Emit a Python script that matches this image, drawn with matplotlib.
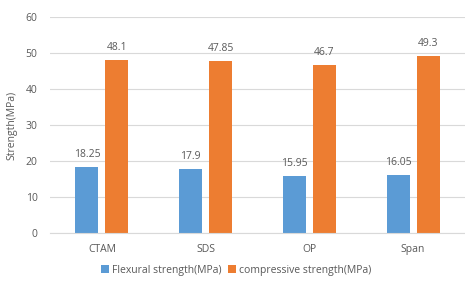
import numpy as np
import matplotlib.pyplot as plt

categories = ["CTAM", "SDS", "OP", "Span"]
flexural = [18.25, 17.9, 15.95, 16.05]
compressive = [48.1, 47.85, 46.7, 49.3]
flex_labels = ["18.25", "17.9", "15.95", "16.05"]
comp_labels = ["48.1", "47.85", "46.7", "49.3"]

BLUE = "#5B9BD5"
ORANGE = "#ED7D31"
TEXT = "#595959"
GRID = "#D9D9D9"
FS = 7.5

plt.rcParams['font.family'] = ['Open Sans', 'DejaVu Sans']

fig = plt.figure(figsize=(4.65, 2.84), dpi=100)
ax = fig.add_axes([50 / 465, 51 / 284, 415 / 465, 216 / 284])

x = np.arange(len(categories))
w = 0.222
off = 0.145
b1 = ax.bar(x - off, flexural, w, color=BLUE, label="Flexural strength(MPa)", zorder=2)
b2 = ax.bar(x + off, compressive, w, color=ORANGE, label="compressive strength(MPa)", zorder=2)

# value labels above bars
for bars, labels in ((b1, flex_labels), (b2, comp_labels)):
    for rect, lab in zip(bars, labels):
        ax.annotate(lab, (rect.get_x() + rect.get_width() / 2, rect.get_height()),
                    xytext=(0, 5), textcoords="offset points", ha="center", va="bottom",
                    fontsize=FS, color=TEXT)

ax.set_xlim(-0.5, len(categories) - 0.5)
ax.set_ylim(0, 60)
ax.set_yticks(range(0, 61, 10))
ax.set_xticks(x)
ax.set_xticklabels(categories)
ax.yaxis.grid(True, color=GRID, linewidth=0.8, zorder=0)
ax.tick_params(axis="both", length=0, labelsize=FS, colors=TEXT)
ax.tick_params(axis="x", pad=8)
ax.tick_params(axis="y", pad=9)
for s in ["top", "right", "left"]:
    ax.spines[s].set_visible(False)
ax.spines["bottom"].set_color(GRID)
ax.set_ylabel("Strength(MPa)", fontsize=FS, color=TEXT, labelpad=6)

fig.legend(loc="center", bbox_to_anchor=(236 / 465, 1 - 270 / 284), ncol=2,
           frameon=False, fontsize=FS, handlelength=0.8, handleheight=0.8,
           handletextpad=0.3, columnspacing=0.6, labelcolor=TEXT)

fig.savefig("out.png", dpi=100, facecolor="white")
